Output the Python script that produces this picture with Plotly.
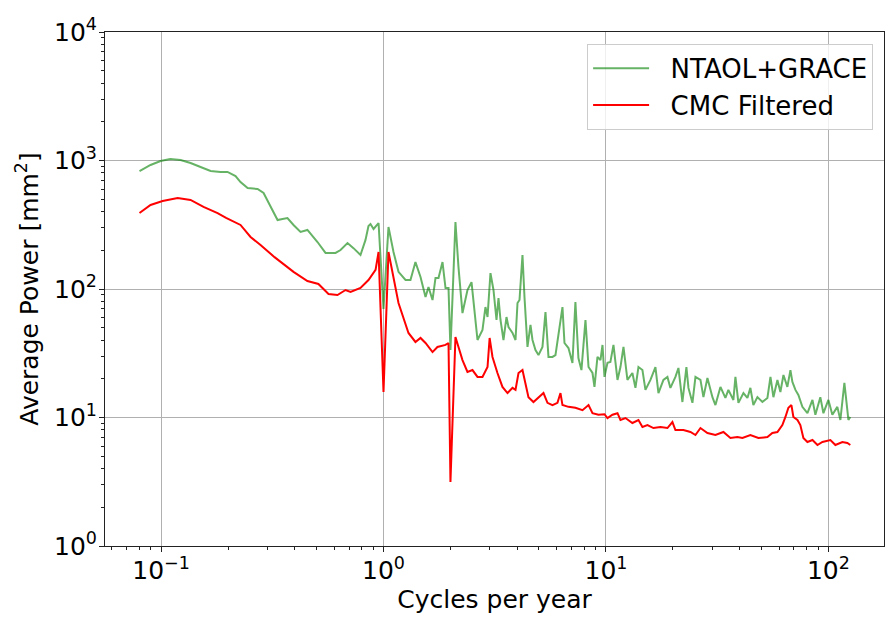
import plotly.graph_objects as go

# NTAOL+GRACE (green)
green_freq = [0.080, 0.0897, 0.0995, 0.110, 0.1224, 0.1357, 0.1505, 0.167, 0.185, 0.199,
              0.2162, 0.2276, 0.245, 0.2716, 0.289, 0.3105, 0.334, 0.3516, 0.370, 0.394,
              0.4236, 0.455, 0.4797, 0.505, 0.5487, 0.6085, 0.641, 0.689, 0.733, 0.788,
              0.830, 0.856, 0.874, 0.902, 0.950, 1.0, 1.053, 1.109, 1.168, 1.256, 1.322,
              1.392, 1.467, 1.545, 1.593, 1.661, 1.713, 1.767, 1.842, 1.900, 1.960,
              2.0, 2.106, 2.173, 2.265, 2.385, 2.487, 2.538, 2.646, 2.786, 2.873,
              2.935, 3.026, 3.122, 3.221, 3.288, 3.357, 3.462, 3.572, 3.647, 3.801,
              3.921, 4.003, 4.087, 4.215, 4.303, 4.439, 4.579, 4.675, 4.822, 4.974,
              5.184, 5.348, 5.516, 5.749, 5.930, 6.180, 6.376, 6.51, 6.785, 7.07,
              7.29, 7.52, 7.76, 8.09, 8.35, 8.70, 8.88, 9.16, 9.45, 9.65,
              9.85, 10.16, 10.47, 10.81, 11.27, 11.62, 11.99, 12.49, 13.15, 13.57,
              14.0, 14.59, 15.05, 15.85, 16.69, 17.22, 18.13, 18.90, 19.49, 20.53,
              21.18, 22.07, 23.0, 23.49, 24.48, 25.26, 26.6, 27.43, 28.59, 30.11,
              31.06, 32.71, 34.44, 35.52, 37.41, 38.2, 39.4, 41.5, 43.25, 44.6,
              46.0, 47.97, 50.5, 53.2, 54.9, 56.6, 59.0, 60.85, 62.8, 65.4,
              67.5, 68.9, 71.1, 73.3, 76.4, 80.5, 84.8, 87.4, 92.0, 95.0,
              100.0, 104.2, 109.7, 113.2, 118.0, 121.7, 123.0, 125.5]
green_power = [828, 923, 991, 1027, 1009, 956, 890, 828, 814, 814,
               757, 680, 611, 600, 559, 443, 344, 351, 357, 315,
               278, 288, 258, 232, 191, 191, 201, 228, 208, 184,
               241, 309, 320, 293, 326, 70, 304, 194, 136, 117.5, 117.5,
               162, 124, 86.6, 103.7, 82.1, 122, 122, 162, 101.8, 101.8,
               33.5, 332, 148, 65.0, 98.2, 113, 82.1, 40.1, 48.0, 72.4,
               60.5, 133, 98.2, 57.4, 85.1, 57.4, 40.1, 60.5, 50.6, 45.5,
               40.1, 77.8, 82.1, 184, 86.6, 35.4, 52.5, 40.1, 33.5, 30.6,
               35.4, 66.2, 29.6, 29.6, 30.6, 49.7, 72.4, 38.0, 34.7, 26.6,
               79.2, 29.0, 23.4, 57.4, 24.7, 22.2, 17.3, 29.6, 28.0, 36.7,
               20.7, 26.6, 27.0, 36.7, 19.6, 24.7, 35.4, 19.6, 22.2, 17.0,
               24.7, 23.4, 16.4, 19.6, 24.7, 15.5, 19.6, 20.7, 17.0, 20.7,
               24.3, 13.2, 24.7, 17.0, 13.0, 20.7, 19.6, 14.4, 20.3, 14.4,
               12.5, 17.3, 14.2, 16.4, 13.7, 20.7, 13.0, 15.5, 14.2, 17.0,
               12.5, 14.4, 13.2, 14.2, 20.7, 14.4, 19.6, 15.8, 21.4, 17.3,
               23.4, 18.9, 16.4, 15.0, 12.1, 10.8, 13.7, 10.5, 14.4, 10.8,
               13.7, 10.5, 12.1, 9.56, 18.6, 11.4, 9.56, 10.1]

# CMC Filtered (red)
red_freq = [0.080, 0.0897, 0.1016, 0.1187, 0.1357, 0.1552, 0.1795, 0.196, 0.2276, 0.2525,
            0.280, 0.3237, 0.394, 0.455, 0.510, 0.566, 0.621, 0.675, 0.711, 0.788,
            0.856, 0.921, 0.950, 1.0, 1.053,
            1.109, 1.168, 1.295, 1.392, 1.467, 1.545, 1.661, 1.748, 1.900, 1.960,
            2.0, 2.106, 2.265, 2.385, 2.512, 2.646, 2.786, 2.935, 3.0, 3.09,
            3.253, 3.426, 3.609, 3.801, 3.921, 4.045, 4.215, 4.347, 4.484, 4.722,
            4.974, 5.239, 5.46, 5.749, 6.054, 6.246, 6.376, 6.785, 7.29, 7.844,
            8.35, 8.70, 9.254, 9.85, 10.16, 10.70, 11.27, 11.62, 12.24, 13.15,
            14.0, 14.59, 15.37, 16.35, 17.58, 18.90, 19.9, 20.53, 22.3, 23.98,
            25.26, 26.6, 28.59, 31.06, 33.74, 36.27, 39.0, 41.07, 44.6, 48.46,
            53.2, 56.0, 59.0, 62.1, 64.1, 66.1, 68.2, 69.6, 72.6, 74.8,
            77.2, 80.5, 84.8, 89.3, 94.0, 102.1, 107.5, 115.6, 121.7, 125.5]
red_power = [390, 451, 484, 511, 493, 435, 390, 357, 315, 254,
             220, 177, 136, 115.4, 109.4, 91.4, 89.8, 98.2, 94.8, 101.8,
             117.5, 141, 194, 15.8, 194,
             124, 77.8, 45.5, 38.7, 41.6, 38.0, 32.3, 35.4, 36.7, 38.0,
             3.15, 42.3, 28.0, 22.6, 23.4, 20.7, 20.7, 24.7, 41.6, 29.6,
             22.2, 17.3, 15.5, 17.0, 16.4, 22.2, 23.4, 18.6, 14.4, 13.2,
             14.4, 15.5, 13.0, 12.5, 13.0, 15.5, 12.5, 12.1, 11.9, 11.4,
             12.5, 10.8, 10.5, 10.6, 9.9, 10.5, 10.8, 9.56, 9.9, 9.06,
             9.56, 8.44, 8.74, 8.28, 8.44, 8.28, 9.22, 7.99, 7.99, 7.71,
             7.31, 8.28, 7.58, 7.31, 7.71, 6.92, 7.05, 6.92, 7.31, 6.92,
             7.05, 7.58, 7.71, 8.74, 10.1, 11.9, 12.5, 10.1, 9.56, 8.74,
             6.92, 6.45, 6.68, 6.11, 6.45, 6.68, 6.11, 6.45, 6.33, 6.11]

x_tickvals = [0.1, 1, 10, 100]
x_ticktext = ["10<sup>−1</sup>", "10<sup>0</sup>", "10<sup>1</sup>", "10<sup>2</sup>"]
y_tickvals = [1, 10, 100, 1000, 10000]
y_ticktext = ["10<sup>0</sup>", "10<sup>1</sup>", "10<sup>2</sup>", "10<sup>3</sup>", "10<sup>4</sup>"]

x_minor = [m * 10.0 ** e for e in (-2, -1, 0, 1, 2) for m in range(2, 10)]
y_minor = [m * 10.0 ** e for e in (0, 1, 2, 3) for m in range(2, 10)]

FONT = "DejaVu Sans"
FS = 25
GAP = "\u00a0\u00a0"

fig = go.Figure()
fig.add_trace(go.Scatter(x=green_freq, y=green_power, mode="lines",
                         name=GAP + "NTAOL+GRACE",
                         line=dict(color="rgba(0,128,0,0.6)", width=2)))
fig.add_trace(go.Scatter(x=red_freq, y=red_power, mode="lines",
                         name=GAP + "CMC Filtered",
                         line=dict(color="#ff0000", width=2)))

axis_common = dict(
    type="log", showgrid=True, gridcolor="#b0b0b0", gridwidth=1,
    showline=True, linecolor="#222222", linewidth=1, mirror=True,
    ticks="outside", ticklen=5, tickcolor="#222222",
    zeroline=False, ticklabelstandoff=-3,
    tickfont=dict(family=FONT, size=FS, color="black"),
)

fig.update_xaxes(**axis_common, range=[-1.252, 2.250],
                 tickmode="array", tickvals=x_tickvals, ticktext=x_ticktext,
                 minor=dict(tickmode="array", tickvals=x_minor, ticks="outside",
                            ticklen=3, tickcolor="#222222", showgrid=False),
                 title=dict(text="Cycles per year", font=dict(family=FONT, size=FS, color="black"), standoff=2))
fig.update_yaxes(**axis_common, range=[0, 4],
                 tickmode="array", tickvals=y_tickvals, ticktext=y_ticktext,
                 minor=dict(tickmode="array", tickvals=y_minor, ticks="outside",
                            ticklen=3, tickcolor="#222222", showgrid=False),
                 title=dict(text="Average Power [mm<sup>2</sup>]", font=dict(family=FONT, size=FS, color="black"), standoff=8))

fig.update_layout(
    width=890, height=624,
    margin=dict(l=105, r=6, t=32, b=78),
    plot_bgcolor="white", paper_bgcolor="white",
    font=dict(family=FONT, color="black"),
    legend=dict(x=0.986, y=0.977, xanchor="right", yanchor="top",
                bgcolor="rgba(255,255,255,0.8)", bordercolor="#cccccc", borderwidth=1,
                itemwidth=56, tracegroupgap=4,
                font=dict(family=FONT, size=26, color="black")),
    showlegend=True,
)

fig.write_html("out.html")
